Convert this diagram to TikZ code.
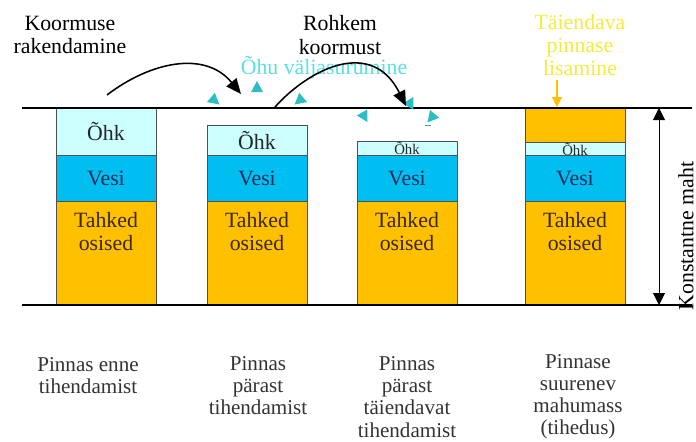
\documentclass[tikz,border=0pt]{standalone}
\usepackage{fontspec}
\setmainfont{Liberation Serif}
\newfontfamily\timesface{Liberation Serif}
\usetikzlibrary{positioning, arrows.meta}
\definecolor{ohkfill}{RGB}{204, 255, 255}
\definecolor{vesifill}{RGB}{0, 190, 240}
\definecolor{tahkedfill}{RGB}{255, 192, 0}
\definecolor{vesitext}{RGB}{25, 45, 95}
\definecolor{tahkedtext}{RGB}{60, 40, 10}
\definecolor{boxline}{RGB}{80, 80, 80}
\definecolor{airblue}{RGB}{45, 190, 195}
\definecolor{airtext}{RGB}{90, 225, 225}
\definecolor{addtext}{RGB}{245, 235, 60}
\newcommand{\bigtext}{\timesface\fontsize{15.5}{16.5}\selectfont}
\newcommand{\captext}{\timesface\fontsize{15}{15.7}\selectfont}
\newcommand{\smalltext}{\timesface\fontsize{10.5}{11}\selectfont}

\tikzset{
    layer/.style={draw=boxline, line width=0.5pt, minimum width=2.5cm,
        inner sep=0pt, font=\bigtext},
    ohklayer/.style={layer, fill=ohkfill, text=black!85},
    vesilayer/.style={layer, fill=vesifill, text=vesitext, minimum height=1.15cm},
    tahkedlayer/.style={layer, fill=tahkedfill, minimum height=2.6cm},
    tahkedlbl/.style={font=\bigtext, text=tahkedtext, align=center, inner sep=0pt},
    caption/.style={font=\captext, text=black!80, align=center},
    airtip/.style={fill=airblue},
}

\begin{document}
\begin{tikzpicture}[x=0.025cm, y=-0.025cm]
    \useasboundingbox (0,0) rectangle (696,441);

    % column 1: before compaction
    \node[ohklayer, minimum height=1.175cm] (ohk1) at (106,131.5) {Õhk};
    \node[vesilayer] (vesi1) at (106,178) {Vesi};
    \node[tahkedlayer] (tahked1) at (106,253) {};
    \node[tahkedlbl] (tahkedlbl1) at (106,231.5) {Tahked\\osised};

    % column 2: after compaction
    \node[ohklayer, minimum height=0.7625cm] (ohk2) at (257,140.75) {Õhk};
    \node[vesilayer] (vesi2) at (257,178) {Vesi};
    \node[tahkedlayer] (tahked2) at (257,253) {};
    \node[tahkedlbl] (tahkedlbl2) at (257,231.5) {Tahked\\osised};

    % column 3: after more compaction
    \node[ohklayer, minimum height=0.375cm, font=\smalltext]
        (ohk3) at (407,148.5) {Õhk};
    \node[vesilayer] (vesi3) at (407,178) {Vesi};
    \node[tahkedlayer] (tahked3) at (407,253) {};
    \node[tahkedlbl] (tahkedlbl3) at (407,231.5) {Tahked\\osised};

    % column 4: soil added on top
    \node[layer, fill=tahkedfill, minimum height=0.85cm] (lisa4) at (575,125) {};
    \node[ohklayer, minimum height=0.35cm, font=\smalltext]
        (ohk4) at (575,149) {Õhk};
    \node[vesilayer] (vesi4) at (575,178) {Vesi};
    \node[tahkedlayer] (tahked4) at (575,253) {};
    \node[tahkedlbl] (tahkedlbl4) at (575,231.5) {Tahked\\osised};

    % top and bottom planes
    \coordinate (topleft) at (22,108);
    \coordinate (topright) at (692,108);
    \coordinate (botleft) at (22,305);
    \coordinate (botright) at (692,305);
    \draw[line width=2pt] (topleft) -- (topright);
    \draw[line width=2pt] (botleft) -- (botright);

    % constant volume
    \coordinate (dimtop) at (659,108);
    \coordinate (dimbot) at (659,305);
    \draw[line width=0.6pt, {Triangle[length=0.3cm, width=0.3cm]}-{Triangle[length=0.3cm, width=0.3cm]}]
        (dimtop) -- (dimbot);
    \node[font=\bigtext, rotate=90] (dimlbl) at (686,236) {Konstantne maht};

    % loads
    \node[font=\bigtext, align=center] (loadlbl) at (70,35) {Koormuse\\rakendamine};
    \node[font=\bigtext, align=center] (morelbl) at (340,35) {Rohkem\\koormust};
    \coordinate (load1start) at (107,95);
    \coordinate (load1end) at (241,94);
    \coordinate (load2start) at (275,107);
    \coordinate (load2end) at (406,106);

    % escaping air
    \fill[airtip] (219.4,104.5) -- (207.0,102.0) -- (214.8,92.8) -- cycle;
    \fill[airtip] (257,81) -- (263,92) -- (251,92) -- cycle;
    \fill[airtip] (294.6,104.5) -- (299.2,92.8) -- (307.0,102.0) -- cycle;
    \fill[airtip] (367.5,122.1) -- (356.8,115.5) -- (367.2,109.5) -- cycle;
    \fill[airtip] (413.5,96.9) -- (413.2,109.5) -- (402.8,103.5) -- cycle;
    \fill[airtip] (427.5,122.4) -- (430.0,110.0) -- (439.2,117.8) -- cycle;
    \draw[airblue!60!gray, line width=0.6pt] (425,125) -- (431,125);
    \node[font=\bigtext, text=airtext] (airlbl) at (324,68) {Õhu väljasurumine};

    \draw[line width=1.1pt, -{Triangle[length=0.38cm, width=0.32cm]}]
        (load1start) .. controls (150,62) and (205,50) .. (load1end);
    \draw[line width=1.1pt, -{Triangle[length=0.38cm, width=0.32cm]}]
        (load2start) .. controls (310,68) and (372,38) .. (load2end);

    % added soil
    \node[font=\bigtext, text=addtext, align=center] (addlbl) at (580,45)
        {Täiendava\\pinnase\\lisamine};
    \coordinate (addstart) at (557,80);
    \coordinate (addend) at (557,107);
    \draw[tahkedfill, line width=0.8pt, -{Triangle[length=0.25cm, width=0.25cm]}]
        (addstart) -- (addend);

    % captions
    \node[caption] (cap1) at (88,376) {Pinnas enne\\tihendamist};
    \node[caption] (cap2) at (258,386) {Pinnas\\pärast\\tihendamist};
    \node[caption] (cap3) at (407,397) {Pinnas\\pärast\\täiendavat\\tihendamist};
    \node[caption] (cap4) at (578,397) {Pinnase\\suurenev\\mahumass\\(tihedus)};

\end{tikzpicture}
\end{document}
